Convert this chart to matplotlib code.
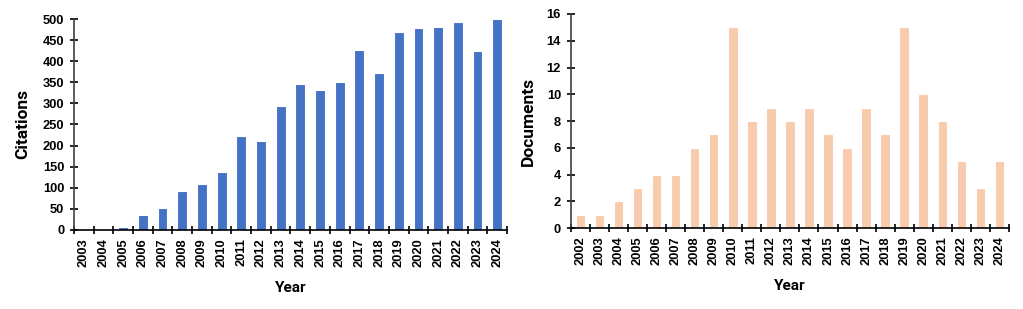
import numpy as np
import matplotlib.pyplot as plt

cit_years = [str(y) for y in range(2003, 2025)]
citations = [0, 2, 7, 35, 52, 92, 108, 138, 222, 212, 293, 346, 332, 350,
             426, 373, 470, 478, 481, 494, 423, 500]

doc_years = [str(y) for y in range(2002, 2025)]
documents = [1, 1, 2, 3, 4, 4, 6, 7, 15, 8, 9, 8, 9, 7, 6, 9, 7, 15, 10, 8, 5, 3, 5]

tick_font = 'Liberation Sans'
label_font = 'Roboto'


def draw_bars(ax, years, values, color, ylim, ystep, ylabel, ypad):
    x = np.arange(len(years))
    ax.bar(x, values, width=0.5, color=color, edgecolor='#ffffff', linewidth=0.8, zorder=2)
    ax.set_xlim(-0.5, len(years) - 0.5)
    ax.set_ylim(0, ylim)
    ax.set_yticks(np.arange(0, ylim + 1, ystep))
    ax.set_xticks(x)
    ax.set_xticklabels(years, rotation=90)
    ax.set_xticks(np.arange(-0.5, len(years)), minor=True)
    ax.tick_params(axis='x', which='major', length=0, pad=6)
    ax.tick_params(axis='x', which='minor', length=6, direction='inout', width=1.2)
    ax.tick_params(axis='y', length=6, direction='inout', width=1.2, pad=4)
    for lbl in ax.get_xticklabels() + ax.get_yticklabels():
        lbl.set_fontfamily(tick_font)
        lbl.set_fontweight('bold')
        lbl.set_fontsize(9.3)
    for s in ['top', 'right']:
        ax.spines[s].set_visible(False)
    ax.spines['left'].set_linewidth(1.2)
    ax.spines['left'].set_color('#404040')
    ax.spines['bottom'].set_linewidth(1.2)
    ax.set_xlabel('Year', fontfamily=label_font, fontweight='bold', fontsize=11, labelpad=10)
    ax.set_ylabel(ylabel, fontfamily=label_font, fontweight='bold', fontsize=12.5, labelpad=ypad)


fig = plt.figure(figsize=(10.23, 3.09), dpi=100)
ax1 = fig.add_axes([0.0723, 0.2557, 0.4233, 0.6828])
ax2 = fig.add_axes([0.558, 0.262, 0.4283, 0.6927])

draw_bars(ax1, cit_years, citations, '#4472C4', 500, 50, 'Citations', 9)
draw_bars(ax2, doc_years, documents, '#F8CBAD', 16, 2, 'Documents', 8)

fig.savefig('out.png', dpi=100)
